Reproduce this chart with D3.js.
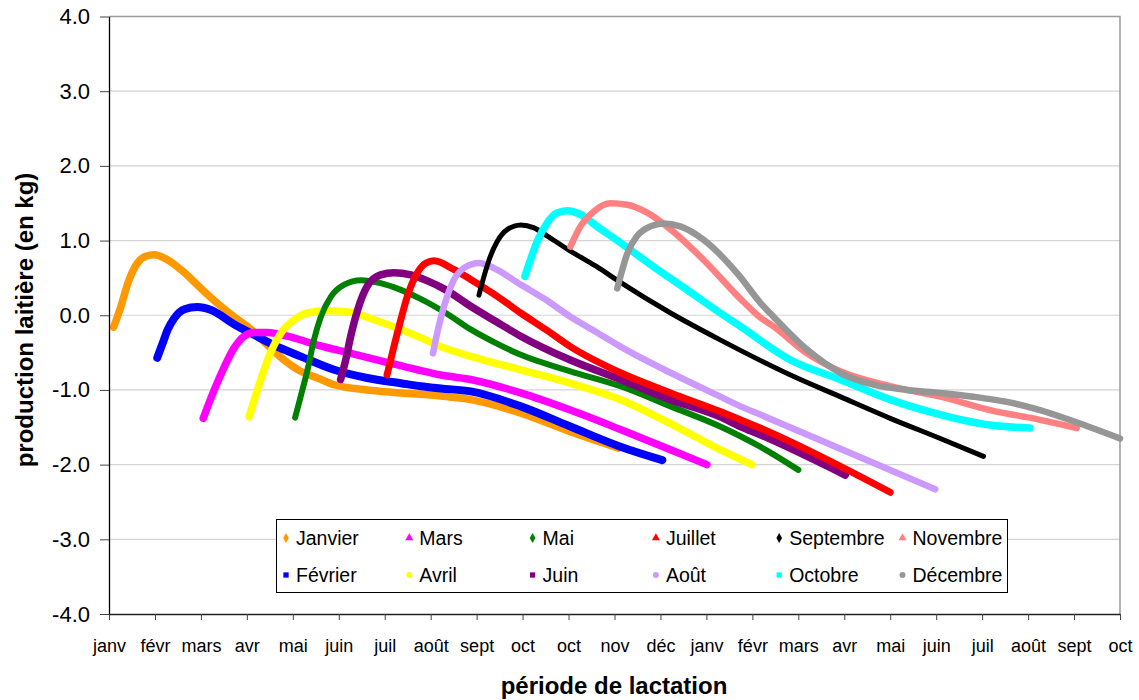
<!DOCTYPE html>
<html><head><meta charset="utf-8">
<script src="https://cdn.jsdelivr.net/npm/d3@7/dist/d3.min.js"></script>
<style>
html,body{margin:0;padding:0;background:#fff;}
svg{display:block;font-family:"Liberation Sans",Arial,sans-serif;}
</style></head>
<body>
<svg id="chart" width="1139" height="700"></svg>
<script>
// ---- Data (x = position on month axis, 0 = first "janv"; y = kg) ----
const monthLabels = ["janv","févr","mars","avr","mai","juin","juil","août","sept","oct","oct","nov","déc","janv","févr","mars","avr","mai","juin","juil","août","sept","oct"];
const yTicks = [-4,-3,-2,-1,0,1,2,3,4];

const janvier = [[0.1,-0.16],[0.26,0.12],[0.41,0.43],[0.62,0.70],[0.8,0.79],[0.98,0.81],[1.28,0.74],[1.64,0.57],[2.0,0.36],[2.36,0.16],[2.72,-0.02],[3.09,-0.19],[3.45,-0.40],[3.81,-0.60],[4.17,-0.75],[4.54,-0.84],[4.9,-0.93],[5.62,-1.0],[6.35,-1.04],[7.22,-1.08],[7.87,-1.13],[8.96,-1.31],[10.04,-1.56],[11.09,-1.78]];
const fevrier = [[1.05,-0.57],[1.17,-0.37],[1.28,-0.19],[1.42,-0.04],[1.64,0.08],[1.92,0.11],[2.22,0.07],[2.72,-0.12],[3.09,-0.24],[3.59,-0.40],[4.17,-0.55],[4.9,-0.73],[5.62,-0.84],[6.35,-0.91],[6.78,-0.95],[7.22,-0.98],[7.87,-1.02],[8.96,-1.22],[10.04,-1.49],[11.13,-1.76],[12.04,-1.94]];
const mars = [[2.05,-1.38],[2.29,-1.0],[2.51,-0.69],[2.72,-0.44],[2.94,-0.28],[3.16,-0.23],[3.45,-0.23],[3.88,-0.28],[4.54,-0.40],[5.26,-0.51],[5.98,-0.62],[6.71,-0.73],[7.22,-0.80],[7.87,-0.86],[8.96,-1.04],[10.04,-1.27],[11.13,-1.53],[12.22,-1.80],[13.01,-2.0]];
const avril = [[3.05,-1.36],[3.23,-1.0],[3.45,-0.60],[3.74,-0.24],[4.03,-0.06],[4.32,0.03],[4.75,0.06],[5.26,0.04],[5.77,-0.06],[6.35,-0.19],[6.78,-0.30],[7.22,-0.42],[7.87,-0.55],[8.96,-0.73],[10.04,-0.91],[11.13,-1.13],[12.22,-1.45],[13.3,-1.80],[13.99,-2.0]];
const mai = [[4.05,-1.37],[4.17,-1.09],[4.32,-0.73],[4.46,-0.33],[4.61,-0.02],[4.83,0.25],[5.12,0.41],[5.48,0.47],[5.91,0.43],[6.35,0.34],[6.78,0.22],[7.33,0.03],[7.87,-0.19],[8.41,-0.37],[8.96,-0.53],[10.04,-0.75],[11.13,-0.95],[12.22,-1.22],[13.3,-1.49],[13.74,-1.62],[14.17,-1.76],[15.0,-2.07]];
const juin = [[5.04,-0.86],[5.15,-0.60],[5.26,-0.28],[5.41,0.07],[5.62,0.39],[5.91,0.54],[6.2,0.57],[6.57,0.54],[6.93,0.46],[7.33,0.34],[7.87,0.12],[8.41,-0.08],[8.96,-0.28],[10.04,-0.60],[11.13,-0.86],[12.22,-1.13],[13.3,-1.36],[13.74,-1.49],[14.17,-1.60],[16.02,-2.14]];
const juillet = [[6.05,-0.80],[6.2,-0.42],[6.35,-0.06],[6.49,0.25],[6.71,0.57],[6.9,0.70],[7.07,0.73],[7.51,0.61],[7.87,0.48],[8.41,0.27],[8.96,0.03],[9.5,-0.19],[10.04,-0.42],[11.13,-0.77],[12.22,-1.04],[13.3,-1.29],[13.74,-1.40],[14.17,-1.51],[17.0,-2.37]];
const aout = [[7.05,-0.51],[7.14,-0.24],[7.29,0.12],[7.51,0.48],[7.72,0.63],[8.05,0.70],[8.38,0.63],[8.96,0.41],[9.5,0.21],[10.04,-0.02],[10.59,-0.22],[11.13,-0.42],[12.22,-0.77],[13.3,-1.09],[13.74,-1.22],[14.17,-1.33],[17.98,-2.33]];
const septembre = [[8.05,0.27],[8.16,0.52],[8.27,0.74],[8.45,0.99],[8.67,1.15],[8.96,1.21],[9.25,1.17],[9.54,1.06],[10.04,0.86],[10.59,0.66],[11.13,0.44],[12.22,0.03],[13.3,-0.33],[13.74,-0.47],[14.83,-0.80],[15.91,-1.09],[17.0,-1.38],[18.09,-1.65],[19.03,-1.89]];
const octobre = [[9.05,0.52],[9.17,0.74],[9.32,0.99],[9.54,1.24],[9.75,1.37],[9.97,1.40],[10.26,1.35],[10.62,1.19],[11.13,0.97],[11.85,0.65],[12.58,0.34],[13.3,0.03],[13.74,-0.15],[14.83,-0.60],[15.91,-0.86],[17.0,-1.13],[18.09,-1.33],[19.17,-1.47],[20.04,-1.51]];
const novembre = [[10.04,0.92],[10.26,1.19],[10.55,1.39],[10.91,1.50],[11.28,1.48],[11.72,1.37],[12.22,1.15],[12.94,0.74],[13.74,0.22],[14.17,-0.03],[14.46,-0.15],[15.19,-0.51],[15.91,-0.75],[17.0,-0.95],[18.09,-1.09],[19.17,-1.27],[20.26,-1.40],[21.06,-1.51]];
const decembre = [[11.06,0.36],[11.13,0.52],[11.28,0.83],[11.49,1.06],[11.78,1.19],[12.07,1.23],[12.43,1.19],[12.94,1.01],[13.7,0.54],[14.17,0.17],[14.46,-0.02],[15.19,-0.46],[15.91,-0.77],[16.64,-0.93],[17.36,-1.00],[18.09,-1.04],[18.81,-1.09],[19.54,-1.16],[20.26,-1.27],[20.99,-1.42],[22.0,-1.65]];

const seriesNames = ["Janvier","Février","Mars","Avril","Mai","Juin","Juillet","Août","Septembre","Octobre","Novembre","Décembre"];
const seriesValues = [janvier,fevrier,mars,avril,mai,juin,juillet,aout,septembre,octobre,novembre,decembre];
const seriesColors = ["#FF9900","#0000FF","#FF00FF","#FFFF00","#008000","#800080","#FF0000","#CC99FF","#000000","#00FFFF","#FF8080","#969696"];
const seriesSymbols = ["diamond","square","triangle","circle","diamond","square","triangle","circle","diamond","square","triangle","circle"];
const seriesWidths = [7.5,8,7.5,7.5,6,7.5,7,6.5,5,7.5,6.5,6.5];

// ---- Layout ----
const L = 109, R = 1120, T = 16.5, B = 614;
const svg = d3.select("#chart");
const x = d3.scaleLinear().domain([0, monthLabels.length - 1]).range([L, R]);
const y = d3.scaleLinear().domain([-4, 4]).range([B, T]);

// gridlines
svg.append("g").selectAll("line").data(yTicks.filter(v => v > -4 && v < 4)).join("line")
  .attr("x1", L).attr("x2", R).attr("y1", d => y(d)).attr("y2", d => y(d))
  .attr("stroke", "#d4d4d4").attr("stroke-width", 1.2);

// plot border (top/right gray)
svg.append("path").attr("d", `M${L},${T}H${R}V${B}`).attr("fill", "none")
  .attr("stroke", "#9a9a9a").attr("stroke-width", 1.5);

// series lines
const line = d3.line().x(d => x(d[0])).y(d => y(d[1])).curve(d3.curveMonotoneX);
const gSeries = svg.append("g");
seriesValues.forEach((vals, i) => {
  gSeries.append("path").datum(vals).attr("d", line).attr("fill", "none")
    .attr("stroke", seriesColors[i]).attr("stroke-width", seriesWidths[i])
    .attr("stroke-linecap", "round").attr("stroke-linejoin", "round");
});

// axes
const xAxis = svg.append("g").attr("transform", `translate(0,${B})`)
  .call(d3.axisBottom(x).tickValues(d3.range(monthLabels.length)).tickFormat(i => monthLabels[i]).tickSize(6).tickSizeOuter(0));
xAxis.select(".domain").attr("stroke", "#222").attr("stroke-width", 1.3);
xAxis.selectAll(".tick line").attr("stroke", "#444");
xAxis.selectAll("text").attr("y", 38).attr("dy", 0).attr("font-size", 18).attr("fill", "#000")
  .attr("font-family", "Liberation Sans, Arial, sans-serif");

const yAxis = svg.append("g").attr("transform", `translate(${L},0)`)
  .call(d3.axisLeft(y).tickValues(yTicks).tickFormat(d => d.toFixed(1)).tickSize(9).tickPadding(10).tickSizeOuter(0));
yAxis.select(".domain").attr("stroke", "#000").attr("stroke-width", 1.3);
yAxis.selectAll(".tick line").attr("stroke", "#444");
yAxis.selectAll("text").attr("font-size", 22).attr("fill", "#000")
  .attr("font-family", "Liberation Sans, Arial, sans-serif");

// axis titles
svg.append("text").attr("x", 614).attr("y", 694).attr("text-anchor", "middle")
  .attr("font-size", 24).attr("font-weight", "bold").text("période de lactation");
svg.append("text").attr("transform", "translate(33,320) rotate(-90)").attr("text-anchor", "middle")
  .attr("font-size", 24).attr("font-weight", "bold").text("production laitière (en kg)");

// legend
const lg = svg.append("g");
lg.append("rect").attr("x", 276.5).attr("y", 519.5).attr("width", 731).attr("height", 73)
  .attr("fill", "#fff").attr("stroke", "#000").attr("stroke-width", 1);
const symMap = {diamond: d3.symbolDiamond, square: d3.symbolSquare, triangle: d3.symbolTriangle, circle: d3.symbolCircle};
seriesNames.forEach((name, i) => {
  const col = Math.floor(i / 2), row = i % 2;
  const mx = 286 + col * 123.3, my = row === 0 ? 538 : 575;
  lg.append("path").attr("transform", `translate(${mx},${my})`)
    .attr("d", d3.symbol().type(symMap[seriesSymbols[i]]).size(28)())
    .attr("fill", seriesColors[i]);
  lg.append("text").attr("x", mx + 10).attr("y", my + 7).attr("font-size", 19.5).attr("fill", "#000").text(name);
});
</script>
</body></html>
